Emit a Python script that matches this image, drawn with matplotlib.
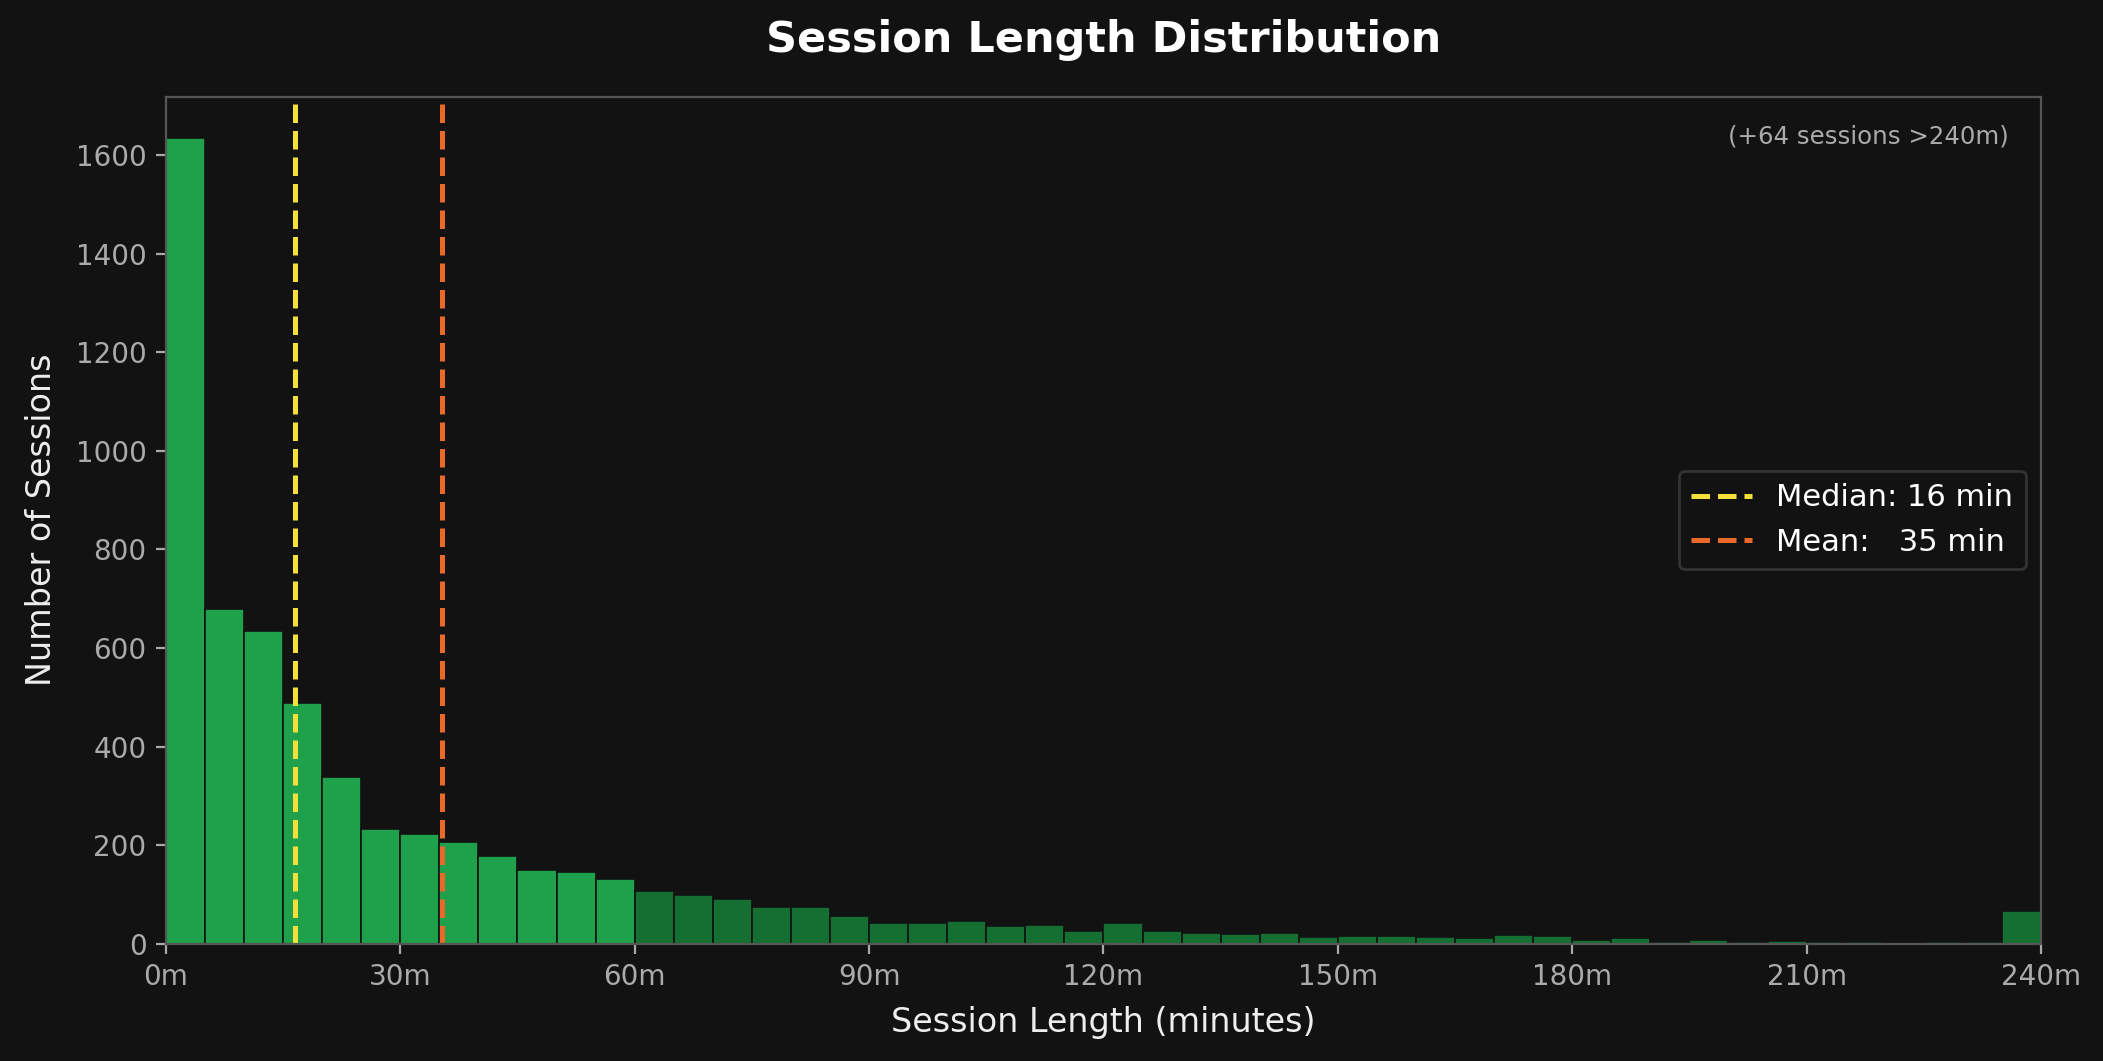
import numpy as np
import matplotlib
matplotlib.use("Agg")
import matplotlib.pyplot as plt

# session length histogram, 5-minute bins from 0 to 240 min
bin_width = 5
bin_starts = np.arange(0, 240, bin_width)
counts = [1634, 680, 635, 489, 339, 232, 222, 206, 178, 149,
          145, 131, 106, 98, 90, 74, 74, 56, 41, 41,
          45, 35, 37, 25, 42, 26, 22, 20, 22, 14,
          16, 16, 14, 12, 18, 16, 8, 12, 4, 8,
          4, 6, 4, 4, 1, 4, 4, 66]
median_min = 16.47
mean_min = 35.36
overflow = 64

xtick_vals = [0, 30, 60, 90, 120, 150, 180, 210, 240]
xtick_labels = ["%dm" % v for v in xtick_vals]
ytick_vals = list(range(0, 1601, 200))

bg = "#121212"
bright = "#1ea14a"
dark = "#156f33"

fig = plt.figure(figsize=(2103 / 200, 1061 / 200), dpi=200, facecolor=bg)
ax = fig.add_axes([0.0789, 0.1106, 0.8916, 0.7984])
ax.set_facecolor(bg)

colors = [bright if s < 60 else dark for s in bin_starts]
ax.bar(bin_starts, counts, width=bin_width, align="edge", color=colors,
       edgecolor=bg, linewidth=0.6)

ax.axvline(median_min, color="#f5e03a", linestyle="--", linewidth=1.8,
           label="Median: %d min" % int(median_min))
ax.axvline(mean_min, color="#e8692a", linestyle="--", linewidth=1.8,
           label="Mean:   %d min" % int(mean_min))

ax.set_xlim(0, 240)
ax.set_ylim(0, max(counts) * 1.052)
ax.set_xticks(xtick_vals)
ax.set_xticklabels(xtick_labels)
ax.set_yticks(ytick_vals)

ax.tick_params(colors="#aaaaaa", labelsize=10)
for sp in ax.spines.values():
    sp.set_color("#555555")

ax.set_xlabel("Session Length (minutes)", color="#eeeeee", fontsize=12,
              labelpad=5.5)
ax.set_ylabel("Number of Sessions", color="#eeeeee", fontsize=12,
              labelpad=6.5)

# title centred over the axes, not the figure
fig.text(0.0789 + 0.8916 / 2, 0.962, "Session Length Distribution",
         color="white", fontsize=15.5, fontweight="bold",
         ha="center", va="center")

ax.text(0.983, 0.967, "(+%d sessions >240m)" % overflow, transform=ax.transAxes,
        ha="right", va="top", color="#aaaaaa", fontsize=8.8)

leg = ax.legend(loc="center right", fontsize=11, facecolor=bg,
                edgecolor="#333333", labelcolor="white", framealpha=1)

fig.savefig("out.png", dpi=200, facecolor=bg)
